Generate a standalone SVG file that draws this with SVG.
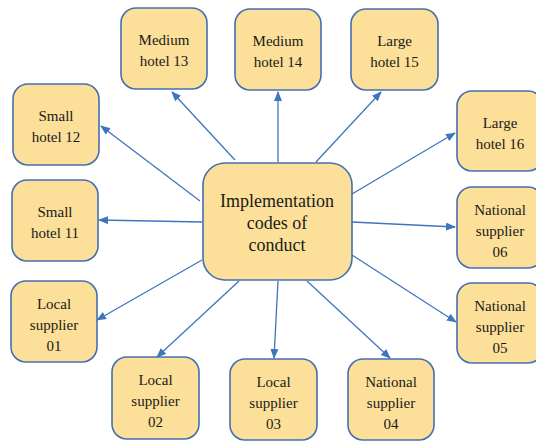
<svg xmlns="http://www.w3.org/2000/svg" width="536" height="441" viewBox="0 0 536 441">
<style>
.box{fill:#FCDF98;stroke:#4470B0;stroke-width:1.6}
text{font-family:"Liberation Serif",serif;fill:#1a1a1a;text-anchor:middle}
.t{font-size:15px}
.tc{font-size:18px}
.c{stroke:#3F75C0;stroke-width:1.3;fill:none;marker-end:url(#ah)}
</style>
<defs>
<marker id="ah" markerUnits="userSpaceOnUse" markerWidth="10" markerHeight="8" refX="9" refY="4" orient="auto">
<path d="M0,0 L10,4 L0,8 Z" fill="#3F75C0"/>
</marker>
</defs>
<rect width="536" height="441" fill="#ffffff"/>
<g id="connectors">
<line class="c" x1="200" y1="201" x2="101" y2="126"/>
<line class="c" x1="235" y1="160" x2="172" y2="92"/>
<line class="c" x1="278" y1="162" x2="278" y2="92"/>
<line class="c" x1="316" y1="162" x2="381" y2="92"/>
<line class="c" x1="352" y1="194" x2="455" y2="133"/>
<line class="c" x1="202" y1="222" x2="99" y2="220"/>
<line class="c" x1="202" y1="260" x2="97" y2="320"/>
<line class="c" x1="239" y1="281" x2="157" y2="357"/>
<line class="c" x1="278" y1="281" x2="274" y2="358"/>
<line class="c" x1="307" y1="281" x2="390" y2="358"/>
<line class="c" x1="352" y1="255" x2="456" y2="322"/>
<line class="c" x1="352" y1="222" x2="455" y2="227"/>
</g>
<g id="center" font-family="Liberation Serif">
<rect class="box" x="203" y="163" width="149" height="117" rx="22"/>
<text class="tc" x="277" y="207" font-family="Liberation Serif">Implementation</text>
<text class="tc" x="277" y="229" font-family="Liberation Serif">codes of</text>
<text class="tc" x="277" y="251" font-family="Liberation Serif">conduct</text>
</g>
<g id="medium-hotel-13">
<rect class="box" x="121" y="8" width="86" height="81" rx="15"/>
<text class="t" x="164" y="45">Medium</text>
<text class="t" x="164" y="66">hotel 13</text>
</g>
<g id="medium-hotel-14">
<rect class="box" x="235" y="9" width="86" height="81" rx="15"/>
<text class="t" x="278" y="46">Medium</text>
<text class="t" x="278" y="67">hotel 14</text>
</g>
<g id="large-hotel-15">
<rect class="box" x="351" y="9" width="87" height="81" rx="15"/>
<text class="t" x="394.5" y="46">Large</text>
<text class="t" x="394.5" y="67">hotel 15</text>
</g>
<g id="large-hotel-16">
<rect class="box" x="457" y="91" width="86" height="80" rx="15"/>
<text class="t" x="500" y="128">Large</text>
<text class="t" x="500" y="149">hotel 16</text>
</g>
<g id="small-hotel-12">
<rect class="box" x="13" y="84" width="86" height="81" rx="15"/>
<text class="t" x="56" y="121">Small</text>
<text class="t" x="56" y="142">hotel 12</text>
</g>
<g id="small-hotel-11">
<rect class="box" x="12" y="180" width="86" height="81" rx="15"/>
<text class="t" x="55" y="217">Small</text>
<text class="t" x="55" y="238">hotel 11</text>
</g>
<g id="local-supplier-01">
<rect class="box" x="11" y="281" width="86" height="81" rx="15"/>
<text class="t" x="54" y="309">Local</text>
<text class="t" x="54" y="330">supplier</text>
<text class="t" x="54" y="351">01</text>
</g>
<g id="local-supplier-02">
<rect class="box" x="112" y="357" width="87" height="82" rx="15"/>
<text class="t" x="155.5" y="385">Local</text>
<text class="t" x="155.5" y="406">supplier</text>
<text class="t" x="155.5" y="427">02</text>
</g>
<g id="local-supplier-03">
<rect class="box" x="230" y="359" width="87" height="81" rx="15"/>
<text class="t" x="273.5" y="387">Local</text>
<text class="t" x="273.5" y="408">supplier</text>
<text class="t" x="273.5" y="429">03</text>
</g>
<g id="national-supplier-04">
<rect class="box" x="348" y="359" width="86" height="81" rx="15"/>
<text class="t" x="391" y="387">National</text>
<text class="t" x="391" y="408">supplier</text>
<text class="t" x="391" y="429">04</text>
</g>
<g id="national-supplier-05">
<rect class="box" x="457" y="283" width="86" height="80" rx="15"/>
<text class="t" x="500" y="311">National</text>
<text class="t" x="500" y="332">supplier</text>
<text class="t" x="500" y="353">05</text>
</g>
<g id="national-supplier-06">
<rect class="box" x="457" y="187" width="86" height="81" rx="15"/>
<text class="t" x="500" y="215">National</text>
<text class="t" x="500" y="236">supplier</text>
<text class="t" x="500" y="257">06</text>
</g>
</svg>
